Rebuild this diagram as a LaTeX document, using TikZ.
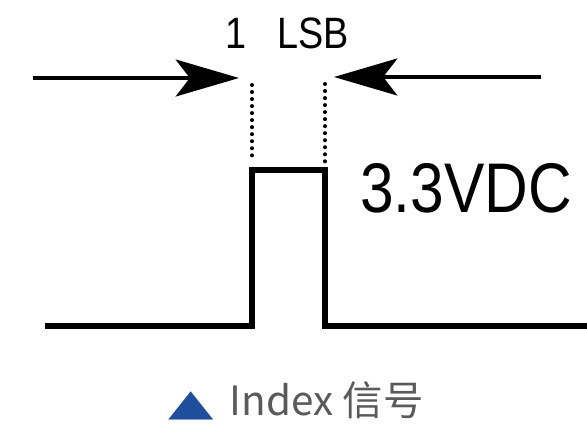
\documentclass[tikz,border=0pt]{standalone}
\usepackage{fontspec}
\usetikzlibrary{arrows.meta}
\setmainfont{Liberation Sans}
\newfontfamily\narrowfont[FakeStretch=0.86]{Liberation Sans}
\newfontfamily\cjkfont{Noto Sans CJK SC}
\newfontfamily\symfont[FakeStretch=1.6]{DejaVu Sans}
\definecolor{c1}{HTML}{000000}
\definecolor{c2}{HTML}{1F4E9C}
\definecolor{labelcolor}{HTML}{5A5A5A}

\begin{document}
\begin{tikzpicture}[
    x=0.02cm, y=-0.02cm,
    every node/.style={inner sep=0pt},
    lab/.style={font=\narrowfont\fontsize{25}{28}\selectfont, text=c1},
    big/.style={font=\narrowfont\fontsize{40}{44}\selectfont, text=c1},
    tag/.style={font=\cjkfont\fontsize{23}{26}\selectfont, text=labelcolor},
    pulse/.style={c1, line width=3pt, line join=miter},
    guide/.style={c1, line width=2.3pt, line cap=round, dash pattern=on 0pt off 4pt},
    push/.style={c1, line width=2.2pt, -{Stealth[length=36pt, width=21pt, inset=8pt]}},
]
\useasboundingbox (0,0) rectangle (587,431);

% the pulse
\coordinate (p1) at (45,326);
\coordinate (p2) at (252,326);
\coordinate (p3) at (252,170);
\coordinate (p4) at (325,170);
\coordinate (p5) at (325,326);
\coordinate (p6) at (587,326);
\draw[pulse] (p1) -- (p2) -- (p3) -- (p4) -- (p5) -- (p6);

% edges of the one-bit window
\coordinate (g1) at (252,85);
\coordinate (g2) at (252,162);
\coordinate (g3) at (325,84);
\coordinate (g4) at (325,162);
\draw[guide] (g1) -- (g2);
\draw[guide] (g3) -- (g4);

% arrows pushing in from both sides
\coordinate (a1) at (33,78);
\coordinate (a2) at (239,78);
\coordinate (a3) at (541,77);
\coordinate (a4) at (334,77);
\draw[push] (a1) -- (a2);
\draw[push] (a3) -- (a4);

\node[lab] (lsb) at (287,33) {1\hspace{0.7em}LSB};
\node[big] (vdc) at (466,188) {3.3VDC};
\node[tag] (caption) at (296,401)
    {{\symfont\fontsize{21}{24}\selectfont\color{c2}▲}\hspace{0.4em}Index 信号};
\end{tikzpicture}
\end{document}
